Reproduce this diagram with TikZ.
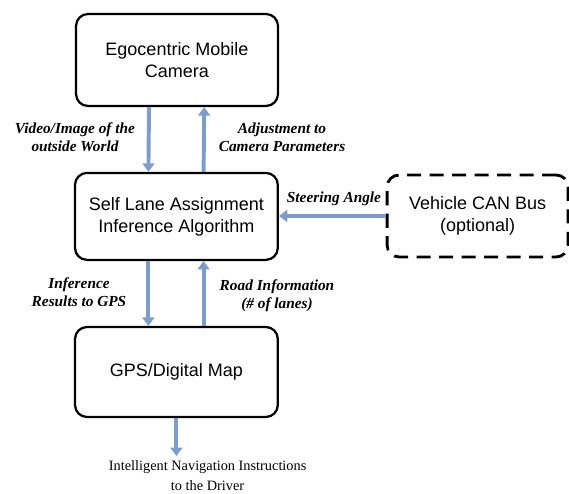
\documentclass[tikz,border=0pt]{standalone}
\usepackage{fontspec}
\setmainfont{Liberation Serif}
\newfontfamily\boxfont{Liberation Sans}
\usetikzlibrary{arrows.meta}
\definecolor{flowblue}{RGB}{124,156,204}
\tikzset{
  block/.style={draw, line width=1.6pt, rounded corners=0.3cm,
    align=center, font=\boxfont\fontsize{12.8}{15.6}\selectfont},
  flow/.style={draw=flowblue, line width=2.8pt,
    -{Triangle[width=8.5pt,length=6pt]}},
  lbl/.style={align=center, font=\bfseries\itshape\fontsize{10.9}{12.8}\selectfont}
}
\begin{document}
\begin{tikzpicture}
  \useasboundingbox (0,0) rectangle (14.225,12.35);

  \node[block, minimum width=5.05cm, minimum height=2.3cm] (cam) at (4.425,10.85) {Egocentric Mobile\\Camera};
  \node[block, minimum width=5.07cm, minimum height=2.175cm] (self) at (4.41,6.94) {Self Lane Assignment\\Inference Algorithm};
  \node[block, minimum width=5.07cm, minimum height=2.25cm] (gps) at (4.41,3.05) {GPS/Digital Map};
  \node[block, dashed, dash pattern=on 10pt off 6pt, line width=2pt,
        minimum width=4.525cm, minimum height=2.05cm] (can) at (11.94,6.95) {Vehicle CAN Bus\\(optional)};

  \node[align=center, font=\fontsize{10.2}{14.2}\selectfont] (nav) at (5.19,0.45) {Intelligent Navigation Instructions\\to the Driver};

  \draw[flow] ([xshift=-0.7cm]cam.south) -- ([xshift=-0.7cm]self.north);
  \draw[flow] ([xshift=0.68cm]self.north) -- ([xshift=0.68cm]cam.south);
  \draw[flow] ([xshift=-0.7cm]self.south) -- ([xshift=-0.7cm]gps.north);
  \draw[flow] ([xshift=0.68cm]gps.north) -- ([xshift=0.68cm]self.south);
  \draw[flow] (can.west) -- (can.west -| self.east);
  \draw[flow] (gps.south) -- (gps.south |- nav.north);

  \node[lbl] (lvideo) at (1.875,8.925) {Video/Image of the\\outside World};
  \node[lbl] (ladjust) at (7.05,8.925) {Adjustment to\\Camera Parameters};
  \node[lbl] (lsteer) at (8.35,7.375) {Steering Angle};
  \node[lbl] (linfer) at (1.975,5.05) {Inference\\Results to GPS};
  \node[lbl] (lroad) at (6.925,4.95) {Road Information\\(\# of lanes)};
\end{tikzpicture}
\end{document}
